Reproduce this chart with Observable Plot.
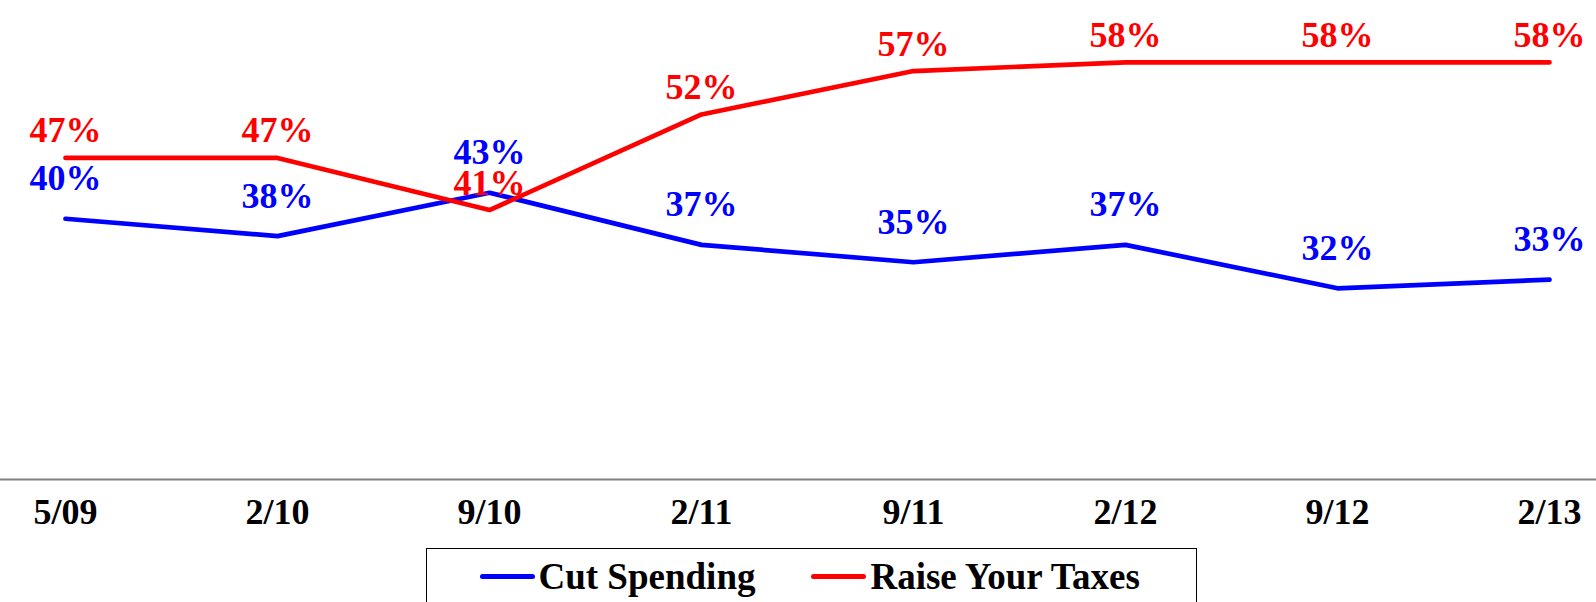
<!DOCTYPE html>
<html>
<head>
<meta charset="utf-8">
<script src="https://cdn.jsdelivr.net/npm/d3@7"></script>
<script src="https://cdn.jsdelivr.net/npm/@observablehq/plot@0.6"></script>
<style>
  html, body { margin: 0; padding: 0; background: #fff; overflow: hidden; }
  #chart svg { display: block; }
  .legend {
    position: absolute; left: 426px; top: 548px; width: 771px; height: 70px;
    border: 1.5px solid #000; box-sizing: border-box;
    display: flex; align-items: flex-start; justify-content: flex-start;
    padding-top: 8.5px; padding-left: 52.5px;
    font-family: "Liberation Serif", "Times New Roman", serif; font-weight: bold; font-size: 37px;
    line-height: 37px; color: #000; white-space: nowrap;
  }
  .item { display: flex; align-items: center; }
  .sw { width: 55px; height: 5px; border-radius: 3px; margin-right: 4px; }
  .gap { width: 56px; }
</style>
</head>
<body>
<div id="chart"></div>
<div class="legend" id="legend"></div>
<script>
const dates = ["5/09", "2/10", "9/10", "2/11", "9/11", "2/12", "9/12", "2/13"];
const cutSpending = [40, 38, 43, 37, 35, 37, 32, 33];
const raiseTaxes = [47, 47, 41, 52, 57, 58, 58, 58];
const seriesNames = ["Cut Spending", "Raise Your Taxes"];
const seriesColors = ["#0000FF", "#FF0000"];

const rows = [];
dates.forEach((d, i) => {
  rows.push({date: d, series: seriesNames[0], value: cutSpending[i]});
  rows.push({date: d, series: seriesNames[1], value: raiseTaxes[i]});
});
const blueRows = rows.filter(r => r.series === seriesNames[0]);
const redRows = rows.filter(r => r.series === seriesNames[1]);

const plot = Plot.plot({
  width: 1596,
  height: 548,
  marginLeft: 64,
  marginRight: 46,
  marginTop: 1,
  marginBottom: 69,
  style: {fontFamily: "'Liberation Serif', 'Times New Roman', serif", fontWeight: "bold", background: "#fff"},
  x: {type: "point", domain: dates, padding: 0, label: null},
  y: {domain: [10, 65], axis: null},
  color: {domain: seriesNames, range: seriesColors},
  marks: [
    Plot.ruleY([10], {stroke: "#808080", strokeWidth: 2, insetLeft: -64, insetRight: -46}),
    Plot.axisX({tickSize: 0, tickPadding: 19, fontSize: 36, fill: "#000", fontWeight: "bold", label: null}),
    Plot.line(rows, {x: "date", y: "value", z: "series", stroke: "series", strokeWidth: 4.7, strokeLinecap: "round", strokeLinejoin: "miter"}),
    Plot.text(blueRows, {x: "date", y: "value", text: d => d.value + "%", fill: seriesColors[0], fontSize: 36, fontWeight: "bold", dy: -40}),
    Plot.text(redRows, {x: "date", y: "value", text: d => d.value + "%", fill: seriesColors[1], fontSize: 36, fontWeight: "bold", dy: -27})
  ]
});
document.getElementById("chart").appendChild(plot);

const legend = document.getElementById("legend");
seriesNames.forEach((name, i) => {
  if (i > 0) { const g = document.createElement("div"); g.className = "gap"; legend.appendChild(g); }
  const item = document.createElement("div");
  item.className = "item";
  const sw = document.createElement("div");
  sw.className = "sw";
  sw.style.background = seriesColors[i];
  const t = document.createElement("span");
  t.textContent = name;
  item.appendChild(sw);
  item.appendChild(t);
  legend.appendChild(item);
});
</script>
</body>
</html>
